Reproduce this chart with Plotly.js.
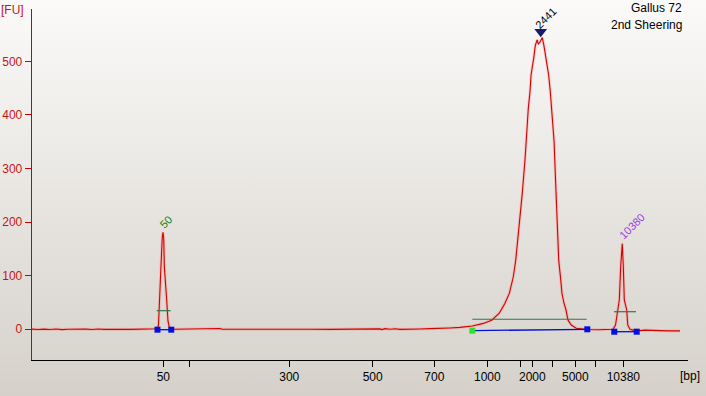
<!DOCTYPE html>
<html>
<head>
<meta charset="utf-8">
<script src="https://cdn.plot.ly/plotly-3.0.1.min.js"></script>
<style>
  html, body { margin: 0; padding: 0; }
  #wrap { width: 706px; height: 396px; background: linear-gradient(to bottom, #fbfaf9 0%, #d5d1ca 100%); }
  #chart { width: 706px; height: 396px; }
</style>
</head>
<body>
<div id="wrap"><div id="chart"></div></div>
<script>
// Migration position (arbitrary time units, 0..100 across the run) and fluorescence [FU]
const timePos = [
  0, 0.91, 1.83, 2.74, 3.66, 4.57, 5.49, 6.40, 7.32, 8.23, 9.15, 10.06, 10.98, 11.89, 12.80, 13.72, 14.94, 16.16, 17.38, 18.29, 18.90,
  19.13, 19.28, 19.41, 19.66, 19.86, 19.97, 20.08, 20.17, 20.53, 20.73, 20.96, 21.19, 21.65,
  22.56, 25.61, 27.90, 28.66, 28.96, 31.71, 34.76, 37.80, 39.63, 39.94, 42.38, 45.43, 48.48, 51.52, 53.05, 53.35, 53.81, 54.57, 55.34, 56.10, 57.62, 59.15, 60.67, 62.20, 63.72, 65.24, 67.12,
  68.80, 70.08, 71.23, 72.10, 72.76, 73.37, 73.74, 74.28, 74.74, 75.15, 75.30, 75.46, 75.66, 75.91, 76.07, 76.48, 76.73, 77.01, 77.19, 77.48, 77.79, 78.06, 78.32, 78.76, 79.01, 79.21, 79.40, 79.59, 79.69, 79.88, 80.03, 80.29, 80.58, 80.79, 81.07, 81.40, 81.71, 82.21, 82.97, 83.73, 84.76, 86.28, 87.80, 88.57,
  88.95, 89.28, 89.53, 89.74, 89.98, 90.14, 90.29, 90.66, 90.82, 91.16, 91.62, 92.07, 92.68, 93.45, 94.21, 94.97, 95.73, 97.26, 98.78, 100
];
const fluorescence = [
  0.3, -0.5, 0.4, -0.3, 0.6, -0.6, 0.2, 0.5, -0.4, 0.3, -0.5, 0.6, -0.2, 0.4, -0.3, 0.2, -0.2, 0.3, 0, 0.2, 0.4,
  1, 8, 55, 117, 172, 181, 170, 117, 55, 15, 3, 0.5, 0,
  0.2, -0.1, 0.3, 1.5, 0, 0.1, -0.2, 0.2, 1.2, 0, 0.1, -0.1, 0.3, 0.4, 0.8, -0.5, 1.2, 0, 1, -0.2, 0.8, 0.5, 1.2, 1.5, 2.5, 3.5, 6,
  11, 17, 30, 48.5, 67, 98, 129, 191, 254, 316, 350, 381, 413, 443, 474, 506, 530, 540, 532, 537, 544, 528, 506, 474, 443, 413, 381, 350, 316, 254, 191, 129, 95, 67, 50, 36, 17, 8, 2, 0.5, -0.5, -0.8, -0.5,
  0, 8, 36, 55, 117, 160, 117, 55, 36, 8, 0, -1.5, -1, -2.5, -1.5, -2, -3, -2.5, -3, -3
];

// Axis ticks (ladder sizes in bp) at their migration positions
const tickPos    = [20.02, 23.98, 39.22, 51.93, 61.33, 69.41, 74.50, 76.27, 79.31, 82.82, 85.93, 90.14];
const tickLabels = ['50', '', '300', '500', '700', '1000', '', '2000', '', '5000', '', '10380'];
const yTicks = [0, 100, 200, 300, 400, 500];

// Peaks: labels, apex positions, integration borders, half-height lines
const peakLabels   = ['50', '2441', '10380'];
const peakLabelX   = [20.43, 78.35, 91.50];
const peakLabelY   = [200, 580, 192];
const peakColors   = ['#108010', '#000000', '#9a3ee0'];
const startX = [19.13, 67.12, 88.76];
const startY = [-0.75, -2.6, -4.5];
const endX   = [21.23, 84.65, 92.18];
const endY   = [-0.75, 0, -4.5];
const halfXa = [19.01, 67.12, 88.72];
const halfXb = [21.14, 84.55, 92.07];
const halfY  = [34.7, 18.7, 32.8];
const apexX = [77.55];
const apexY = [555];

const traces = [];
// soft halo under the electropherogram line
traces.push({ x: timePos, y: fluorescence, mode: 'lines', line: { color: 'rgba(255,110,110,0.28)', width: 3 }, hoverinfo: 'skip' });
traces.push({ x: timePos, y: fluorescence, mode: 'lines', line: { color: '#d40000', width: 1.1 }, hoverinfo: 'skip' });

for (let i = 0; i < startX.length; i++) {
  traces.push({ x: [halfXa[i], halfXb[i]], y: [halfY[i], halfY[i]], mode: 'lines', line: { color: '#2a7a55', width: 1.2 }, hoverinfo: 'skip' });
  traces.push({ x: [startX[i], endX[i]], y: [startY[i], endY[i]], mode: 'lines', line: { color: '#0010d0', width: 1.3 }, hoverinfo: 'skip' });
  traces.push({ x: [startX[i], endX[i]], y: [startY[i], endY[i]], mode: 'markers',
    marker: { symbol: 'square', size: 6, color: [i === 1 ? '#30e030' : '#0010e0', '#0010e0'] }, hoverinfo: 'skip' });
}
traces.push({ x: apexX, y: apexY, mode: 'markers', marker: { symbol: 'triangle-down', size: 11, color: '#1a1a6a' }, hoverinfo: 'skip' });

const annotations = [];
for (let i = 0; i < peakLabels.length; i++) {
  annotations.push({ x: peakLabelX[i], y: peakLabelY[i], xref: 'x', yref: 'y', text: peakLabels[i], showarrow: false,
    textangle: -45, font: { family: 'Liberation Sans', size: 11, color: peakColors[i] } });
}
annotations.push({ x: -32 / 656, y: 1, yshift: -1, xref: 'paper', yref: 'paper', text: '[FU]', showarrow: false,
  xanchor: 'left', yanchor: 'middle', borderpad: 0, font: { family: 'Liberation Sans', size: 12, color: '#c81414' } });
annotations.push({ x: 1, xshift: 2, y: 0, yshift: -16, xref: 'paper', yref: 'paper', text: '[bp]', showarrow: false,
  xanchor: 'center', yanchor: 'middle', font: { family: 'Liberation Sans', size: 12, color: '#000000' } });
annotations.push({ x: 1, xshift: -4, y: 1, yshift: 1, xref: 'paper', yref: 'paper', text: 'Gallus 72', showarrow: false,
  xanchor: 'right', yanchor: 'middle', font: { family: 'Liberation Sans', size: 12, color: '#000000' } });
annotations.push({ x: 1, xshift: -4, y: 1, yshift: -16, xref: 'paper', yref: 'paper', text: '2nd Sheering', showarrow: false,
  xanchor: 'right', yanchor: 'middle', font: { family: 'Liberation Sans', size: 12, color: '#000000' } });

const layout = {
  width: 706, height: 396,
  margin: { l: 32, r: 18, t: 9, b: 36, pad: 0 },
  paper_bgcolor: 'rgba(0,0,0,0)', plot_bgcolor: 'rgba(0,0,0,0)',
  showlegend: false,
  font: { family: 'Liberation Sans', size: 12 },
  xaxis: {
    range: [0, 100], showgrid: false, zeroline: false, showline: true, linecolor: '#000000', linewidth: 1,
    ticks: 'outside', ticklen: 6, tickcolor: '#000000', tickwidth: 1,
    tickmode: 'array', tickvals: tickPos, ticktext: tickLabels,
    tickfont: { family: 'Liberation Sans', size: 12, color: '#000000' }
  },
  yaxis: {
    range: [-57.3, 597.6], showgrid: false, zeroline: false, showline: true, linecolor: '#cc0000', linewidth: 1.3,
    ticks: 'outside', ticklen: 6, tickcolor: '#cc0000', tickwidth: 1,
    tickmode: 'array', tickvals: yTicks,
    tickfont: { family: 'Liberation Sans', size: 12, color: '#c81414' }
  },
  annotations: annotations
};

Plotly.newPlot('chart', traces, layout, { displayModeBar: false, staticPlot: true });
</script>
</body>
</html>
